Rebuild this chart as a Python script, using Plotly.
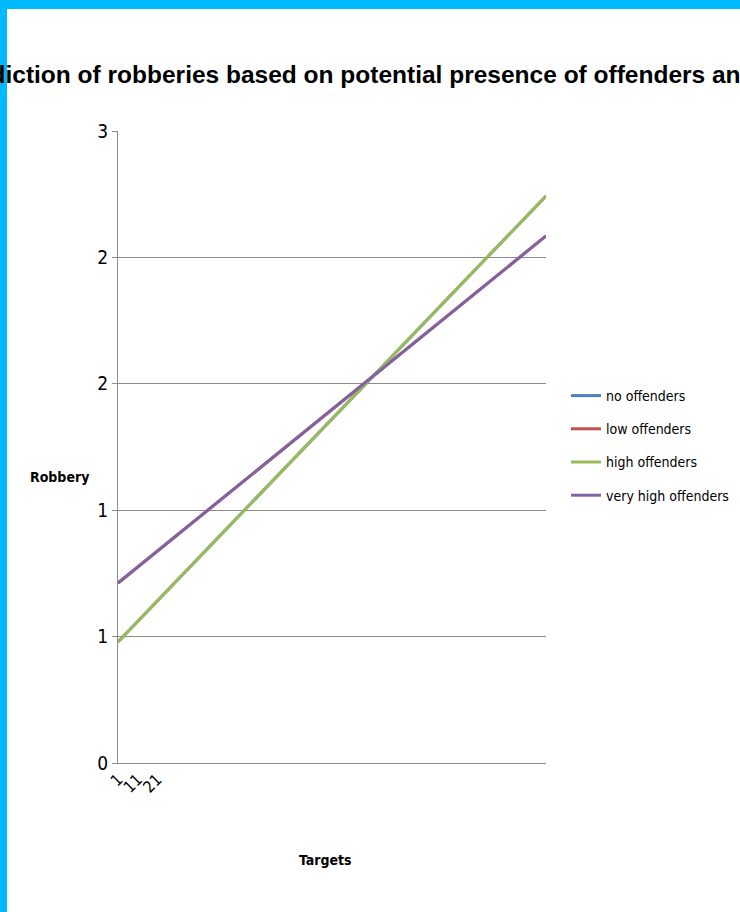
import plotly.graph_objects as go

# Predicted robberies along the targets scale, one line per offender level
series_names = ["no offenders", "low offenders", "high offenders", "very high offenders"]
series_colors = ["#4F81BD", "#C0504D", "#9BBB59", "#8064A2"]
targets = [1, 220]
no_offenders = [0.479, 2.243]
low_offenders = [0.712, 2.085]
high_offenders = [0.479, 2.243]
very_high_offenders = [0.712, 2.085]
series_values = [no_offenders, low_offenders, high_offenders, very_high_offenders]

y_tickvals = [0, 0.5, 1.0, 1.5, 2.0, 2.5]
y_ticktext = ["0", "1", "1", "2", "2", "3"]
x_tickvals = [1, 11, 21]
x_ticktext = ["1", "11", "21"]

TITLE_TEXT = "Prediction of robberies based on potential presence of offenders and targets"

FONT = "DejaVu Sans Condensed, Liberation Sans Narrow, Liberation Sans, sans-serif"
TITLE_FONT = "Liberation Sans, Arial, sans-serif"

W, H = 740, 912
L, R, T, B = 118, 194, 131, 149
PW, PH = W - L - R, H - T - B


def px_x(px):
    return (px - L) / PW


def px_y(py):
    return (H - B - py) / PH


fig = go.Figure()
for i, (name, color, vals) in enumerate(zip(series_names, series_colors, series_values)):
    fig.add_trace(go.Scatter(
        x=targets, y=vals, mode="lines", name=name,
        line=dict(color=color, width=3),
        legendgroup=f"g{i}",
    ))

fig.update_layout(
    width=W, height=H,
    margin=dict(l=L, r=R, t=T, b=B, autoexpand=False),
    paper_bgcolor="white", plot_bgcolor="white",
    font=dict(family=FONT, size=17, color="black"),
    showlegend=True,
    legend=dict(
        x=px_x(566), y=px_y(380), xanchor="left", yanchor="top",
        font=dict(family=FONT, size=14, color="black"),
        traceorder="grouped", tracegroupgap=12,
        itemwidth=30, bgcolor="rgba(0,0,0,0)",
    ),
    xaxis=dict(
        range=[1, 220], tickvals=x_tickvals, ticktext=x_ticktext,
        tickangle=-45, showgrid=False, zeroline=False,
        showline=True, linecolor="#8C8C8C", linewidth=1,
        ticks="", tickfont=dict(family=FONT, size=16, color="black"),
    ),
    yaxis=dict(
        range=[0, 2.5], tickvals=y_tickvals, ticktext=y_ticktext,
        showgrid=True, gridcolor="#8C8C8C", gridwidth=1, zeroline=False,
        showline=True, linecolor="#8C8C8C", linewidth=1,
        ticks="outside", ticklen=5, tickcolor="#8C8C8C",
        tickfont=dict(family=FONT, size=19, color="black"),
    ),
    annotations=[
        # chart title, wider than the page
        dict(text=f"<b>{TITLE_TEXT}</b>", x=px_x(-51), y=px_y(75),
             xref="paper", yref="paper", showarrow=False,
             font=dict(family=TITLE_FONT, size=24.5, color="black"),
             xanchor="left", yanchor="middle"),
        dict(text="<b>Robbery</b>", x=px_x(59), y=px_y(477), xref="paper", yref="paper",
             showarrow=False, font=dict(family=FONT, size=14, color="black"),
             xanchor="center", yanchor="middle"),
        dict(text="<b>Targets</b>", x=px_x(325), y=px_y(860), xref="paper", yref="paper",
             showarrow=False, font=dict(family=FONT, size=14, color="black"),
             xanchor="center", yanchor="middle"),
    ],
    shapes=[
        dict(type="rect", xref="paper", yref="paper", layer="below",
             x0=px_x(-2), x1=px_x(W + 2), y0=px_y(9), y1=px_y(-2),
             fillcolor="#00B9FF", line=dict(width=0)),
        dict(type="rect", xref="paper", yref="paper", layer="below",
             x0=px_x(-2), x1=px_x(7), y0=px_y(H + 2), y1=px_y(-2),
             fillcolor="#00B9FF", line=dict(width=0)),
    ],
)

fig.write_html("out.html")
